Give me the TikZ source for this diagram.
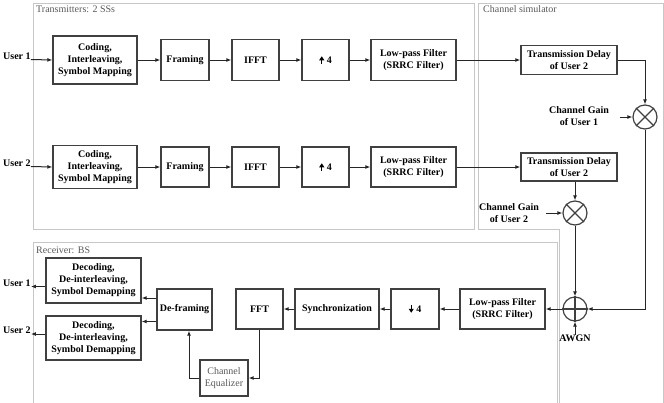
\documentclass[tikz,border=0pt]{standalone}
\usepackage{fontspec}
\setmainfont{Liberation Serif}
\usetikzlibrary{arrows.meta}
\newcommand{\myuparr}{\tikz[baseline=0pt]\draw[line width=1.3pt,-{Triangle[length=4pt,width=5pt]}] (0pt,0pt) -- (0pt,7.5pt);}
\newcommand{\mydownarr}{\tikz[baseline=0pt]\draw[line width=1.3pt,-{Triangle[length=4pt,width=5pt]}] (0pt,7.5pt) -- (0pt,0pt);}
\begin{document}
\begin{tikzpicture}[x=1pt,y=-1pt,
  every node/.style={font=\fontsize{10}{12}\selectfont},
  blk/.style={draw=black!75, line width=1.3pt, inner sep=0pt, align=center, fill=white,
    font=\fontsize{10}{12}\selectfont\bfseries},
  frame/.style={draw=black!22, line width=1pt},
  arr/.style={-{Latex[length=5pt,width=4pt]}, line width=1pt, draw=black!85},
  lbl/.style={font=\fontsize{10}{12}\selectfont\bfseries, align=center, inner sep=0pt},
  ftxt/.style={text=black!65, inner sep=0pt, anchor=base west},
  circ/.style={circle, draw=black!75, line width=1.2pt, minimum size=24pt, inner sep=0pt}
]
\useasboundingbox (0,0) rectangle (664,402);
\clip (0,0) rectangle (664,402);
% frames
\draw[frame] (33,3) rectangle (474,229);
\draw[frame] (478,3) -- (663,3) -- (663,410) -- (559,410) -- (559,229) -- (478,229) -- cycle;
\draw[frame] (33,242) rectangle (557,410);
\node[ftxt] (ttx) at (36,12) {Transmitters: 2 SSs};
\node[ftxt] (tch) at (483,12.5) {Channel simulator};
\node[ftxt] (trx) at (36,253) {Receiver: BS};
% transmitter row 1
\node[lbl, anchor=base west] (u1) at (3,59.5) {User 1};
\node[blk, minimum width=84pt, minimum height=48pt] (cod1) at (95,60) {Coding,\\Interleaving,\\Symbol Mapping};
\node[blk, minimum width=48pt, minimum height=41pt] (fr1) at (185,60) {Framing};
\node[blk, minimum width=47pt, minimum height=41pt] (ifft1) at (255.5,60) {IFFT};
\node[blk, minimum width=47pt, minimum height=41pt] (up1) at (325.5,60) {\myuparr\ 4};
\node[blk, minimum width=85pt, minimum height=41pt] (lpf1) at (413.5,60) {Low-pass Filter\\(SRRC Filter)};
\node[blk, minimum width=96pt, minimum height=29pt] (td1) at (569,60) {Transmission Delay\\of User 2};
% transmitter row 2
\node[lbl, anchor=base west] (u2) at (3,166.5) {User 2};
\node[blk, minimum width=84pt, minimum height=43pt] (cod2) at (95,167) {Coding,\\Interleaving,\\Symbol Mapping};
\node[blk, minimum width=48pt, minimum height=40pt] (fr2) at (185,167) {Framing};
\node[blk, minimum width=47pt, minimum height=40pt] (ifft2) at (255.5,167) {IFFT};
\node[blk, minimum width=47pt, minimum height=40pt] (up2) at (325.5,167) {\myuparr\ 4};
\node[blk, minimum width=85pt, minimum height=40pt] (lpf2) at (413.5,167) {Low-pass Filter\\(SRRC Filter)};
\node[blk, minimum width=96pt, minimum height=28pt] (td2) at (569,167) {Transmission Delay\\of User 2};
% channel
\node[circ] (m1) at (645,117) {};
\draw[black!75, line width=1.2pt] (m1.north west) -- (m1.south east) (m1.north east) -- (m1.south west);
\node[circ] (m2) at (575,213) {};
\draw[black!75, line width=1.2pt] (m2.north west) -- (m2.south east) (m2.north east) -- (m2.south west);
\node[circ] (add) at (575,309) {};
\draw[black!75, line width=1.2pt] (add.north) -- (add.south) (add.west) -- (add.east);
\node[lbl] (g1) at (579,116) {Channel Gain\\of User 1};
\coordinate (g1a) at (620,117);
\node[lbl] (g2) at (509,213) {Channel Gain\\of User 2};
\coordinate (g2a) at (546,213);
\node[lbl] (awgn) at (575,338.5) {AWGN};
% receiver
\node[blk, minimum width=85pt, minimum height=40pt] (lpfr) at (502.5,309) {Low-pass Filter\\(SRRC Filter)};
\node[blk, minimum width=48pt, minimum height=40pt] (dn4) at (415,309) {\mydownarr\ 4};
\node[blk, minimum width=84pt, minimum height=40pt] (sync) at (337,309) {Synchronization};
\node[blk, minimum width=47pt, minimum height=40pt] (fft) at (259.5,309) {FFT};
\node[blk, minimum width=55pt, minimum height=41pt] (defr) at (184.5,309.5) {De-framing};
\node[blk, minimum width=95pt, minimum height=45pt] (dec1) at (93.5,280.5) {Decoding,\\De-interleaving,\\Symbol Demapping};
\node[blk, minimum width=95pt, minimum height=44pt] (dec2) at (93.5,338) {Decoding,\\De-interleaving,\\Symbol Demapping};
\node[blk, minimum width=48pt, minimum height=36pt, font=\fontsize{10}{12}\selectfont, text=black!65] (eq) at (224,378) {Channel\\Equalizer};
\node[lbl, anchor=base west] (u1r) at (3,286) {User 1};
\node[lbl, anchor=base west] (u2r) at (3,333.5) {User 2};
\coordinate (d1y) at (0,298);
\coordinate (d2y) at (0,321.5);
\coordinate (o1y) at (0,286.5);
\coordinate (o2y) at (0,334);
% connectors tx
\draw[arr] (u1.base east) -- (cod1.west);
\draw[arr] (cod1) -- (fr1);
\draw[arr] (fr1) -- (ifft1);
\draw[arr] (ifft1) -- (up1);
\draw[arr] (up1) -- (lpf1);
\draw[arr] (lpf1) -- (td1);
\draw[arr] (u2.base east) -- (cod2.west);
\draw[arr] (cod2) -- (fr2);
\draw[arr] (fr2) -- (ifft2);
\draw[arr] (ifft2) -- (up2);
\draw[arr] (up2) -- (lpf2);
\draw[arr] (lpf2) -- (td2);
% connectors channel
\draw[arr] (td1.east) -| (m1.north);
\draw[arr] (g1a) -- (m1.west);
\draw[arr] (m1.south) |- (add.east);
\draw[arr] (td2.south -| m2.north) -- (m2.north);
\draw[arr] (g2a) -- (m2.west);
\draw[arr] (m2.south) -- (add.north);
\draw[arr] (awgn.north) -- (add.south);
% connectors rx
\draw[arr] (add.west) -- (lpfr.east);
\draw[arr] (lpfr) -- (dn4);
\draw[arr] (dn4) -- (sync);
\draw[arr] (sync) -- (fft);
\draw[arr] (fft.south) |- (eq.east);
\draw[arr] (eq.west) -| ([xshift=4.5pt]defr.south);
\draw[arr] (d1y -| defr.west) -- (d1y -| dec1.east);
\draw[arr] (d2y -| defr.west) -- (d2y -| dec2.east);
\draw[arr] (o1y -| dec1.west) -- (o1y -| u1r.east);
\draw[arr] (o2y -| dec2.west) -- (o2y -| u2r.east);
\end{tikzpicture}
\end{document}
